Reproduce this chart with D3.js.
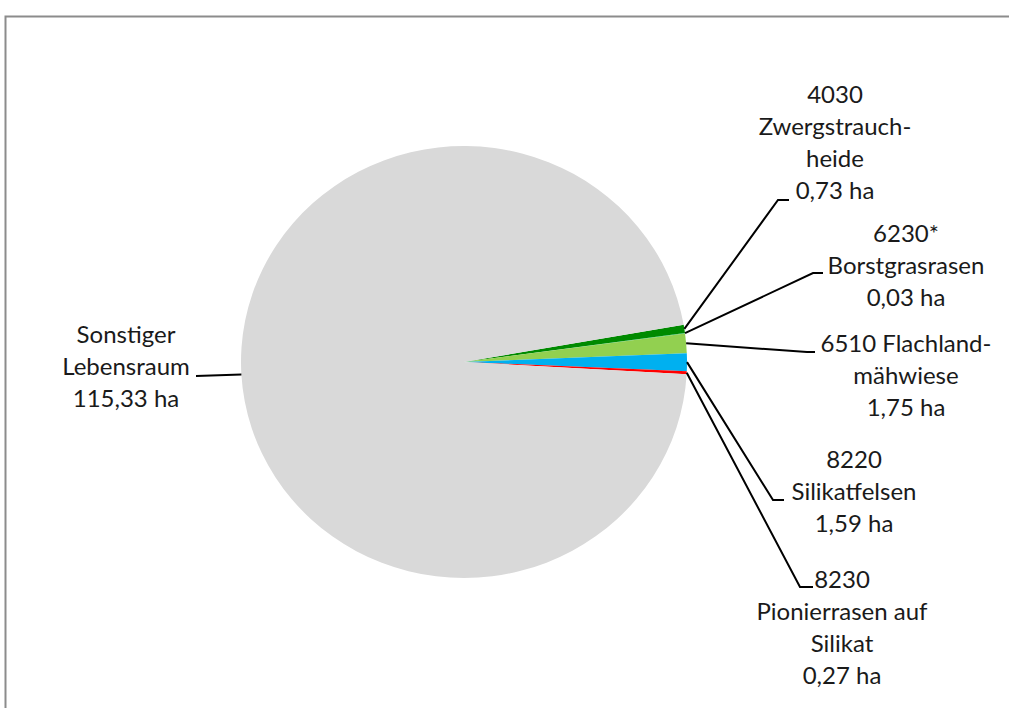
<!DOCTYPE html>
<html>
<head>
<meta charset="utf-8">
<script src="https://cdn.jsdelivr.net/npm/d3@7"></script>
<style>
  body { margin: 0; background: #fff; }
  svg { display: block; }
  text { font-family: Lato, "Noto Sans", sans-serif; font-size: 24px; fill: #1a1a1a; }
</style>
</head>
<body>
<div id="chart"></div>
<script>
// habitat types, values in ha
const codes = ["4030", "6230*", "6510", "8220", "8230", "Sonstiger"];
const labelLines = [
  ["4030", "Zwergstrauch-", "heide"],
  ["6230*", "Borstgrasrasen"],
  ["6510 Flachland-", "mähwiese"],
  ["8220", "Silikatfelsen"],
  ["8230", "Pionierrasen auf", "Silikat"],
  ["Sonstiger", "Lebensraum"]
];
const values = [0.73, 0.03, 1.75, 1.59, 0.27, 115.33];
const colors = ["#008a00", "#00b050", "#92d050", "#00b0f0", "#ff0000", "#d9d9d9"];

// label placement: centre x, first baseline, elbow of leader line, end x of leader
const labelPos = [
  {x: 835, y: 103, ex: 778, ey: 200, lx: 789},
  {x: 906, y: 242, ex: 813, ey: 273, lx: 823},
  {x: 906, y: 352, ex: 807, ey: 352, lx: 815},
  {x: 854, y: 468, ex: 773, ey: 500, lx: 784},
  {x: 842, y: 588, ex: 800, ey: 587, lx: 813},
  {x: 126, y: 343, ex: 196, ey: 376, lx: 196}
];

const width = 1009, height = 708;
// the picture is slightly stretched sideways, so the pie is an ellipse
const cx = 464, cy = 362, rx = 223, ry = 216;
const lineH = 32;

const svg = d3.select('#chart')
  .append('svg')
  .attr('width', width)
  .attr('height', height);

// chart area frame (only top and left edges visible)
svg.append('rect')
  .attr('x', 5.5).attr('y', 16.5)
  .attr('width', 1200).attr('height', 1000)
  .attr('fill', 'none')
  .attr('stroke', '#8c8c8c')
  .attr('stroke-width', 2);

const fmt = v => d3.format('.2f')(v).replace('.', ',') + ' ha';

const start = (90 - 9.9) * Math.PI / 180;
const pie = d3.pie().sort(null).value(d => d)
  .startAngle(start).endAngle(start + 2 * Math.PI);
const arcs = pie(values);

const arc = d3.arc().innerRadius(0).outerRadius(ry);

const g = svg.append('g')
  .attr('transform', `translate(${cx},${cy}) scale(${rx / ry},1)`);

g.selectAll('path')
  .data(arcs)
  .join('path')
  .attr('d', arc)
  .attr('fill', (d, i) => colors[i]);

// leader lines
svg.append('g')
  .selectAll('path')
  .data(arcs)
  .join('path')
  .attr('fill', 'none')
  .attr('stroke', '#000')
  .attr('stroke-width', 2)
  .attr('d', (d, i) => {
    const a = (d.startAngle + d.endAngle) / 2;
    const px = cx + rx * Math.sin(a);
    const py = cy - ry * Math.cos(a);
    const p = labelPos[i];
    return d3.line()([[px, py], [p.ex, p.ey], [p.lx, p.ey]]);
  });

// labels
const labels = svg.append('g')
  .selectAll('text')
  .data(arcs)
  .join('text')
  .attr('text-anchor', 'middle')
  .attr('x', (d, i) => labelPos[i].x)
  .attr('y', (d, i) => labelPos[i].y);

labels.each(function(d, i) {
  const t = d3.select(this);
  const lines = labelLines[i].concat([fmt(values[i])]);
  lines.forEach((s, j) => {
    t.append('tspan')
      .attr('x', labelPos[i].x)
      .attr('y', labelPos[i].y + j * lineH)
      .text(s);
  });
});
</script>
</body>
</html>
